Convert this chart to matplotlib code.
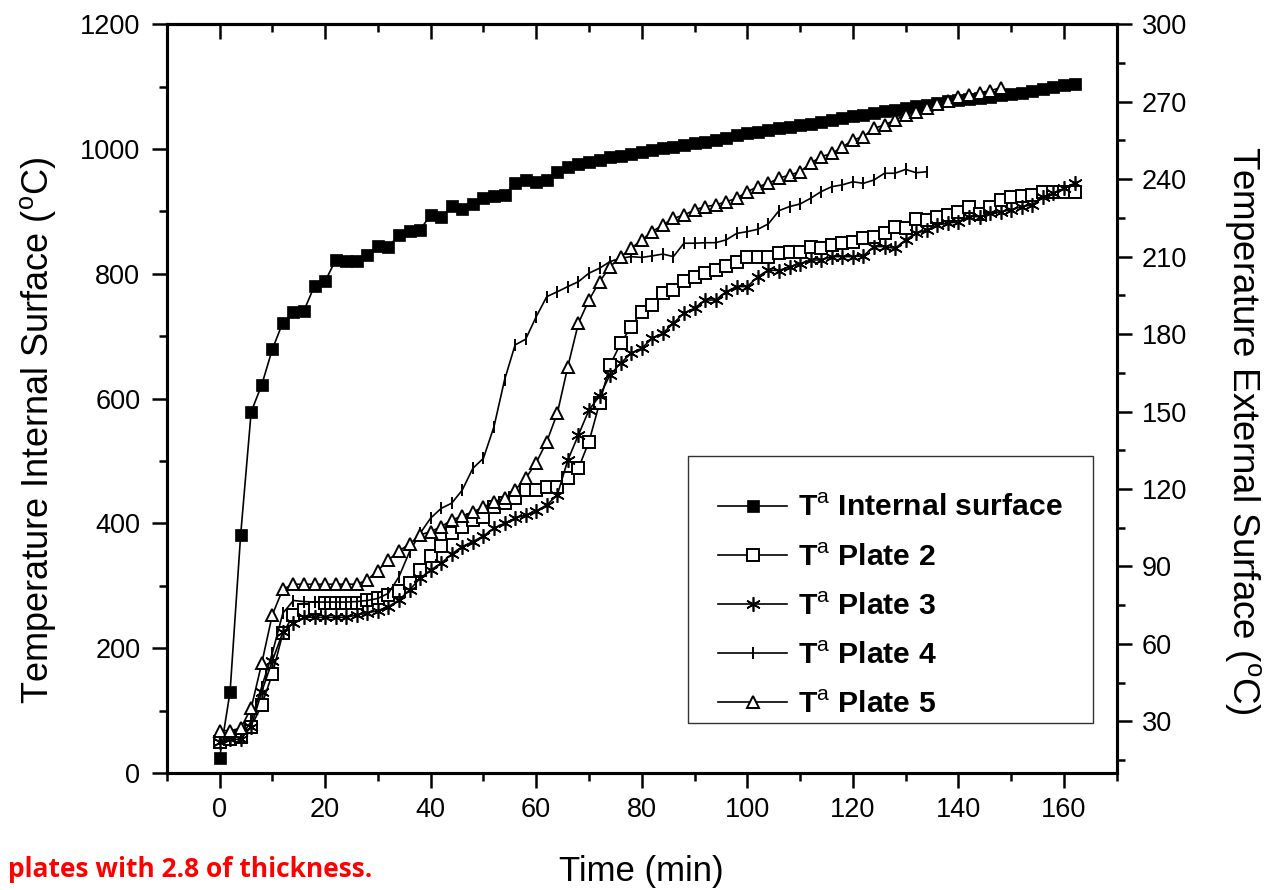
"""Fire test: internal surface vs. external plate temperatures (2.8 thickness plates)."""

import numpy as np
import matplotlib

matplotlib.use("Agg")
import matplotlib.pyplot as plt
from matplotlib.patches import Rectangle
from matplotlib.ticker import MultipleLocator

plt.rcParams["font.family"] = ["Liberation Sans", "DejaVu Sans"]
plt.rcParams["mathtext.fontset"] = "custom"
plt.rcParams["mathtext.rm"] = "Liberation Sans"
plt.rcParams["mathtext.bf"] = "Liberation Sans:bold"

# readings every 2 min
time = np.arange(0, 164, 2)

# internal surface, left axis (deg C)
internal = [23.6, 130, 381, 579, 622, 679, 722, 739, 741, 781,
            788, 822, 820, 820, 830, 845, 843, 863, 868, 871,
            894, 891, 908, 904, 912, 922, 924, 926, 946, 950,
            948, 950, 964, 972, 976, 979, 983, 987, 989, 992,
            995, 998, 1001, 1004, 1006, 1010, 1012, 1014, 1018, 1022,
            1025, 1028, 1031, 1034, 1036, 1038, 1040, 1043, 1046, 1050,
            1053, 1055, 1058, 1061, 1063, 1066, 1069, 1071, 1074, 1077,
            1079, 1080, 1082, 1084, 1086, 1088, 1090, 1093, 1096, 1099,
            1102, 1105]

# external plates, right axis (deg C)
plate2 = [22.1, 23.3, 24.0, 27.9, 36.3, 48.3, 64.1, 71.2, 73.1, 74.0,
          75.7, 75.9, 76.0, 76.0, 77.0, 77.7, 79.0, 80.6, 83.6, 88.6,
          94.1, 97.9, 102.8, 105.4, 108.0, 109.3, 113.2, 114.5, 116.4, 119.6,
          119.6, 120.9, 120.9, 124.1, 128.0, 138.3, 153.2, 168.0, 176.4, 182.9,
          188.7, 191.3, 195.8, 197.1, 200.7, 202.0, 203.5, 204.8, 206.4, 208.0,
          209.7, 209.7, 209.7, 211.5, 211.9, 211.9, 213.6, 213.2, 214.5, 215.2,
          215.8, 217.1, 217.7, 219.0, 221.6, 221.0, 224.5, 224.2, 225.5, 226.1,
          227.4, 229.4, 226.5, 229.4, 232.0, 233.0, 233.5, 233.9, 235.2, 235.2,
          235.2, 235.2]
plate3 = [22.0, 23.0, 23.0, 27.9, 41.5, 53.4, 64.5, 68.0, 70.3, 70.3,
          70.3, 70.3, 70.3, 71.2, 71.9, 72.9, 74.4, 77.0, 80.9, 85.4,
          88.6, 91.2, 94.8, 97.7, 99.6, 101.8, 104.8, 106.7, 108.7, 109.9,
          111.5, 113.8, 117.7, 131.2, 140.9, 150.6, 156.0, 164.2, 168.7, 172.6,
          174.5, 178.4, 180.3, 184.2, 188.1, 190.0, 193.2, 193.2, 196.4, 198.4,
          198.4, 202.2, 204.8, 204.6, 206.1, 207.2, 208.7, 208.7, 210.0, 210.0,
          210.0, 210.3, 213.9, 213.9, 213.2, 216.5, 219.0, 220.3, 222.3, 222.9,
          223.6, 225.5, 225.5, 226.8, 227.4, 228.1, 229.4, 230.0, 233.2, 234.5,
          236.5, 238.4]
plate4 = [23.0, 23.5, 24.0, 30.0, 43.4, 56.4, 71.9, 76.8, 76.4, 76.2,
          76.2, 76.2, 76.2, 76.4, 76.8, 77.6, 79.6, 86.0, 95.7, 102.8,
          108.7, 112.5, 114.5, 119.6, 128.0, 131.9, 144.1, 162.2, 175.8, 178.0,
          186.7, 194.5, 196.4, 198.4, 200.3, 203.6, 205.5, 208.1, 209.4, 210.0,
          209.7, 210.3, 211.0, 210.0, 215.2, 215.2, 215.4, 215.4, 216.5, 219.0,
          219.7, 220.6, 222.7, 227.8, 229.4, 230.4, 232.6, 235.2, 237.1, 237.8,
          239.0, 238.4, 239.7, 242.3, 242.3, 243.8, 242.5, 242.9]
plate5 = [26.4, 26.4, 27.3, 35.1, 52.5, 71.2, 81.2, 83.1, 83.1, 83.1,
          83.1, 83.1, 83.1, 83.1, 84.8, 88.4, 92.5, 96.0, 98.7, 102.2,
          103.5, 105.4, 108.0, 109.5, 111.2, 112.9, 115.1, 116.4, 119.6, 124.1,
          130.2, 138.3, 149.3, 167.4, 184.2, 193.2, 200.3, 206.1, 210.0, 213.2,
          216.5, 219.7, 222.3, 224.8, 226.1, 228.1, 229.4, 230.0, 231.3, 232.6,
          235.2, 237.1, 238.4, 240.4, 241.6, 242.9, 246.2, 248.7, 250.0, 252.4,
          255.2, 256.5, 259.7, 261.0, 262.9, 264.9, 266.2, 267.5, 269.0, 270.4,
          271.7, 272.6, 273.5, 274.3, 275.4]

labels = ["T$^{\\rm a}$ Internal surface", "T$^{\\rm a}$ Plate 2",
          "T$^{\\rm a}$ Plate 3", "T$^{\\rm a}$ Plate 4", "T$^{\\rm a}$ Plate 5"]

fig = plt.figure(figsize=(12.68, 8.90), dpi=100)
ax = fig.add_axes([0.1315, 0.1315, 0.7492, 0.8412])
ax2 = ax.twinx()

LW = 1.2
MEW = 1.4
h0, = ax.plot(time, internal, "-s", color="black", lw=LW, ms=8.3, mfc="black", mew=0.5)
h2, = ax2.plot(time, plate2, "-s", color="black", lw=LW, ms=8.0, mfc="white", mew=MEW)
h3, = ax2.plot(time, plate3, "-", marker=(6, 2, 0), color="black", lw=LW, ms=10.5, mew=1.2)
h4, = ax2.plot(time[:len(plate4)], plate4, "-|", color="black", lw=LW, ms=9, mew=MEW)
h5, = ax2.plot(time[:len(plate5)], plate5, "-^", color="black", lw=LW, ms=9, mfc="white", mew=MEW)

ax.set_xlim(-10, 170)
ax.set_ylim(0, 1200)
ax2.set_ylim(10, 300)
ax.xaxis.set_major_locator(MultipleLocator(20))
ax.xaxis.set_minor_locator(MultipleLocator(10))
ax.yaxis.set_major_locator(MultipleLocator(200))
ax.yaxis.set_minor_locator(MultipleLocator(100))
ax2.yaxis.set_major_locator(MultipleLocator(30))
ax2.yaxis.set_minor_locator(MultipleLocator(15))

for a in (ax, ax2):
    for sp in a.spines.values():
        sp.set_linewidth(2.2)

ax.tick_params(axis="both", which="both", direction="out", width=1.8, labelsize=19.5)
ax.tick_params(axis="both", which="major", length=11)
ax.tick_params(axis="both", which="minor", length=6)
ax.tick_params(axis="x", pad=6)
ax.tick_params(axis="y", pad=8)
ax2.tick_params(axis="y", which="both", direction="out", width=1.8, labelsize=19.5, pad=7)
ax2.tick_params(axis="y", which="major", length=11)
ax2.tick_params(axis="y", which="minor", length=6)

top = ax.secondary_xaxis("top")
top.xaxis.set_major_locator(MultipleLocator(20))
top.xaxis.set_minor_locator(MultipleLocator(10))
top.tick_params(which="both", direction="in", width=1.8, labeltop=False)
top.tick_params(which="major", length=11)
top.tick_params(which="minor", length=6)
top.spines["top"].set_linewidth(2.2)

ax.set_xlabel("Time (min)", fontsize=25)
ax.xaxis.set_label_coords(0.5, -0.110)
ax.xaxis.label.set_va("top")

ax.set_ylabel("Temperature Internal Surface ($^{\\rm o}$C)", fontsize=26)
ax.yaxis.label.set_va("center")
ax.yaxis.set_label_coords(-0.136, 0.458)
ax2.set_ylabel("Temperature External Surface ($^{\\rm o}$C)", fontsize=26.5, rotation=270)
ax2.yaxis.label.set_va("center")
ax2.yaxis.set_label_coords(1.132, 0.458)

# legend box drawn separately so it matches the original frame
ax2.add_patch(Rectangle((0.5487, 0.0668), 0.4263, 0.3566, transform=ax2.transAxes,
                        fill=True, facecolor="white", edgecolor="#333333", lw=1.0, zorder=5))
leg = ax2.legend([h0, h2, h3, h4, h5], labels, loc="upper left",
                 bbox_to_anchor=(0.5803, 0.372), frameon=False, borderpad=0,
                 borderaxespad=0, handlelength=2.3, handletextpad=0.35,
                 labelspacing=0.7, prop={"weight": "bold", "size": 21.7})
leg.set_zorder(6)

fig.text(0.006, 0.0225, "plates with 2.8 of thickness.", color="#ff0000",
         fontsize=19, fontweight="bold", family="Open Sans", ha="left", va="center")

fig.savefig("out.png", dpi=100)
